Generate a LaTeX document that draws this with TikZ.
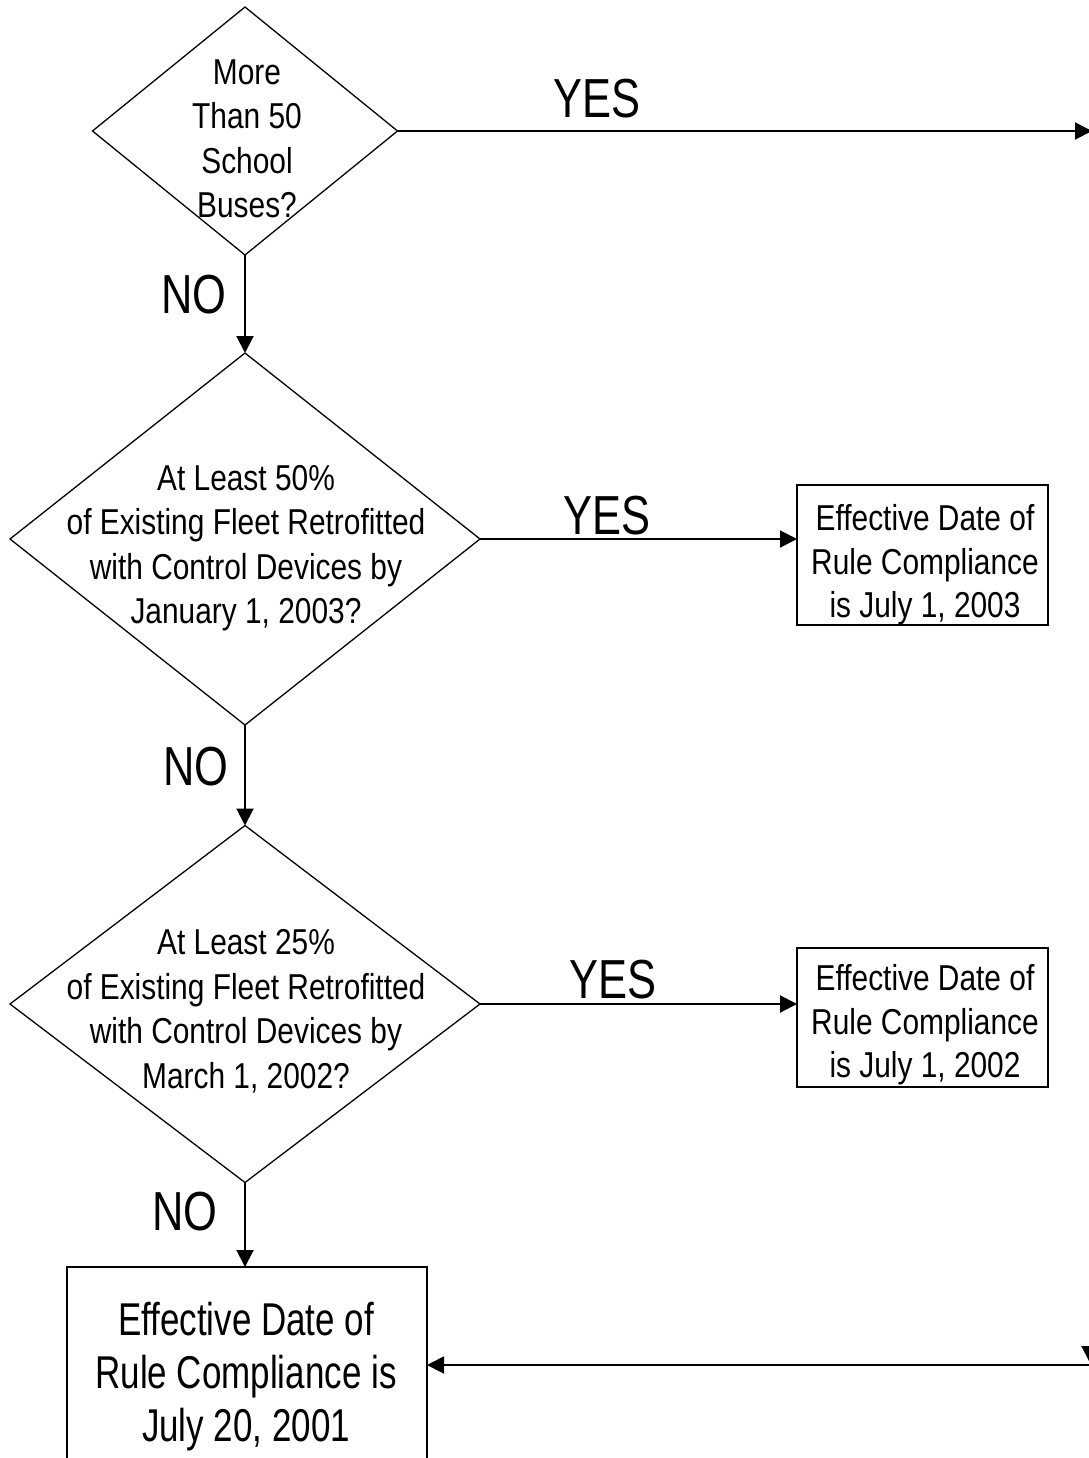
\documentclass[tikz,border=0pt]{standalone}
\usepackage{fontspec}
\setmainfont{Liberation Sans}[FakeStretch=0.83]
\newfontfamily\tallfont{Liberation Sans}[FakeStretch=0.76]
\newfontfamily\answerfont{Liberation Sans}[FakeStretch=0.79]
\usetikzlibrary{shapes.geometric,arrows.meta}

\begin{document}
\begin{tikzpicture}[x=1pt,y=-1pt,
  decision/.style 2 args={diamond, draw, line width=1.3pt, inner sep=0pt,
    outer sep=0pt, minimum width=#1, minimum height=#2},
  outcome/.style 2 args={rectangle, draw, line width=2pt, inner sep=0pt,
    outer sep=0pt, minimum width=#1, minimum height=#2},
  qtext/.style={align=center, inner sep=0pt, font=\fontsize{36}{44.5}\selectfont},
  btext/.style={align=center, inner sep=0pt, font=\fontsize{36}{43.5}\selectfont},
  bigtext/.style={align=center, inner sep=0pt, font=\tallfont\fontsize{46}{53}\selectfont},
  answer/.style={anchor=base, inner sep=0pt, font=\answerfont\fontsize{55}{60}\selectfont},
  conn/.style={line width=2pt, -{Triangle[length=17pt,width=17pt]}}]

% page
\fill[white] (0,0) rectangle (1088,1458);
\useasboundingbox (0,0) rectangle (1088,1458);

% decisions
\node[decision={305pt}{248pt}] (d1) at (245,131) {};
\node[qtext] (d1t) at (247,139) {More\\Than 50\\School\\Buses?};

\node[decision={470pt}{372pt}] (d2) at (245,539) {};
\node[qtext] (d2t) at (246,548) {At Least 50\%\\of Existing Fleet Retrofitted\\with Control Devices by\\January 1, 2003?};

\node[decision={470pt}{357pt}] (d3) at (245,1004) {};
\node[qtext] (d3t) at (246,1011) {At Least 25\%\\of Existing Fleet Retrofitted\\with Control Devices by\\March 1, 2002?};

% outcomes
\node[outcome={251pt}{140pt}] (b1) at (922.5,555) {};
\node[btext] (b1t) at (925,565) {Effective Date of\\Rule Compliance\\is July 1, 2003};

\node[outcome={251pt}{139pt}] (b2) at (922.5,1017.5) {};
\node[btext] (b2t) at (925,1025) {Effective Date of\\Rule Compliance\\is July 1, 2002};

\node[outcome={360pt}{210pt}] (b3) at (247,1372) {};
\node[bigtext] (b3t) at (246,1377) {Effective Date of\\Rule Compliance is\\July 20, 2001};

% free ends at the right edge
\coordinate (yesout) at (1092,131);
\coordinate (rin) at (1090,1365);
\coordinate (rtop) at (1090,1320);
\coordinate (rbot) at (1090,1363);

% connectors
\draw[conn] (d1.east) -- (d1.east -| yesout);
\draw[conn] (d1.south) -- (d2.north);
\draw[conn] (d2.east) -- (b1.west |- d2.east);
\draw[conn] (d2.south) -- (d3.north);
\draw[conn] (d3.east) -- (b2.west |- d3.east);
\draw[conn] (d3.south) -- (d3.south |- b3.north);
\draw[conn] (rin) -- (rin -| b3.east);
\draw[conn] (rtop) -- (rbot);

% branch labels
\node[answer] (y1) at (597,118) {YES};
\node[answer] (n1) at (194,313) {NO};
\node[answer] (y2) at (607,534) {YES};
\node[answer] (n2) at (196,785) {NO};
\node[answer] (y3) at (613,998) {YES};
\node[answer] (n3) at (185,1230) {NO};
\end{tikzpicture}
\end{document}
